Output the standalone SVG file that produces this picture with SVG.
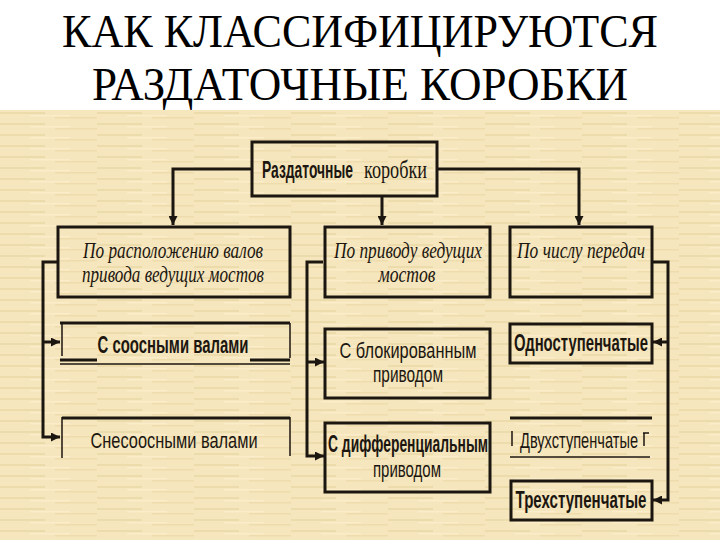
<svg xmlns="http://www.w3.org/2000/svg" width="720" height="540" viewBox="0 0 720 540">
<style>
.title{font-family:"Liberation Serif","Times New Roman",serif;font-size:46px;fill:#000;text-anchor:middle}
.box{fill:none;stroke:#1c1610;stroke-width:3}
.thin{fill:none;stroke:#1c1610;stroke-width:1.5}
.cat{font-family:"Liberation Serif","Times New Roman",serif;font-style:italic;font-size:23px;fill:#1c1610;text-anchor:middle}
.bold{font-family:"Liberation Sans",Arial,sans-serif;font-weight:bold;font-size:23px;fill:#1c1610;text-anchor:middle}
.reg{font-family:"Liberation Sans",Arial,sans-serif;font-size:22px;fill:#1c1610;text-anchor:middle}
.ser{font-family:"Liberation Serif","Times New Roman",serif;font-size:26px;fill:#1c1610}
.conn{fill:none;stroke:#1c1610;stroke-width:3}
</style>
<defs>
<marker id="arr" viewBox="0 0 10 10" refX="10" refY="5" markerWidth="3.2" markerHeight="3" orient="auto" markerUnits="strokeWidth">
<path d="M0,0 L10,5 L0,10 Z" fill="#1c1610"/>
</marker>
<pattern id="tex" width="97" height="11" patternUnits="userSpaceOnUse">
<rect width="97" height="11" fill="#f5e6bd"/>
<rect y="2" width="45" height="2" fill="#ecdbab"/>
<rect x="55" y="7" width="42" height="1.5" fill="#eedcad"/>
<rect x="30" y="5" width="40" height="1.5" fill="#fbedc9"/>
</pattern>
</defs>
<rect width="720" height="540" fill="#fff"/>
<text class="title" x="360" y="47" textLength="596" lengthAdjust="spacingAndGlyphs">КАК КЛАССИФИЦИРУЮТСЯ</text>
<text class="title" x="360" y="100" textLength="536" lengthAdjust="spacingAndGlyphs">РАЗДАТОЧНЫЕ КОРОБКИ</text>
<rect x="0" y="110" width="720" height="430" fill="url(#tex)"/>

<g id="connectors">
<path class="conn" d="M252,169 H173 V225" marker-end="url(#arr)"/>
<path class="conn" d="M382,197 V225" marker-end="url(#arr)"/>
<path class="conn" d="M437,169 H579 V225" marker-end="url(#arr)"/>
<path class="conn" d="M57,262 H43 V437 H60" marker-end="url(#arr)"/>
<path class="conn" d="M43,342 H60" marker-end="url(#arr)"/>
<path class="conn" d="M323,262 H307 V456 H324" marker-end="url(#arr)"/>
<path class="conn" d="M307,362 H324" marker-end="url(#arr)"/>
<path class="conn" d="M653,262 H668 V500 H653" marker-end="url(#arr)"/>
<path class="conn" d="M668,342 H653" marker-end="url(#arr)"/>
</g>

<g id="root">
<rect class="box" x="252" y="142" width="185" height="54"/>
<text class="bold" transform="translate(262,178) scale(0.65,1)" style="text-anchor:start" textLength="140" lengthAdjust="spacingAndGlyphs">Раздаточные</text>
<text class="ser" transform="translate(364,178) scale(0.7,1)" textLength="90" lengthAdjust="spacingAndGlyphs">коробки</text>
</g>

<g id="by-shafts">
<rect class="box" x="58" y="227" width="232" height="70"/>
<text class="cat" x="173" y="258" textLength="180" lengthAdjust="spacingAndGlyphs">По расположению валов</text>
<text class="cat" x="173" y="282" textLength="182" lengthAdjust="spacingAndGlyphs">привода ведущих мостов</text>
</g>

<g id="by-drive">
<rect class="box" x="325" y="227" width="165" height="70"/>
<text class="cat" x="408" y="258" textLength="148" lengthAdjust="spacingAndGlyphs">По приводу ведущих</text>
<text class="cat" x="407" y="282" textLength="57" lengthAdjust="spacingAndGlyphs">мостов</text>
</g>

<g id="by-gears">
<rect class="box" x="510" y="227" width="142" height="70"/>
<text class="cat" x="581" y="258" textLength="128" lengthAdjust="spacingAndGlyphs">По числу передач</text>
</g>

<g id="coaxial">
<path class="box" d="M60,323 H290"/>
<path class="thin" d="M62,323 V356 M290,323 V358"/>
<path class="box" d="M60,360 H97 M250,360 H290"/>
<path class="thin" d="M60,364 H290" stroke="#7a6a55"/>
<text class="bold" transform="translate(173,353) scale(0.7,1)" textLength="215.7" lengthAdjust="spacingAndGlyphs">С соосными валами</text>
</g>

<g id="noncoaxial">
<path class="box" d="M62,418 H290"/>
<path class="thin" d="M62,417 V458 M290,417 V456"/>
<text class="reg" transform="translate(174,448) scale(0.75,1)" textLength="222.7" lengthAdjust="spacingAndGlyphs">Снесоосными валами</text>
</g>

<g id="locked">
<rect class="box" x="325" y="329" width="165" height="69"/>
<text class="reg" transform="translate(408,358) scale(0.75,1)" textLength="182.7" lengthAdjust="spacingAndGlyphs">С блокированным</text>
<text class="reg" transform="translate(408,382) scale(0.75,1)" textLength="93.3" lengthAdjust="spacingAndGlyphs">приводом</text>
</g>

<g id="differential">
<rect class="box" x="325" y="423" width="165" height="69"/>
<text class="bold" transform="translate(408,452) scale(0.7,1)" textLength="228.6" lengthAdjust="spacingAndGlyphs">С дифференциальным</text>
<text class="reg" transform="translate(407,477) scale(0.75,1)" textLength="90.7" lengthAdjust="spacingAndGlyphs">приводом</text>
</g>

<g id="single">
<rect class="box" x="510" y="324" width="142" height="39"/>
<text class="bold" transform="translate(581,351) scale(0.7,1)" textLength="191.4" lengthAdjust="spacingAndGlyphs">Одноступенчатые</text>
</g>

<g id="two">
<path class="box" d="M510,418 H652"/>
<path class="thin" d="M510,457 H650" stroke="#5a4c3c"/>
<path class="thin" d="M512,431 V446 M643,433 H649 M644,433 V446"/>
<text class="reg" transform="translate(579,448) scale(0.7,1)" textLength="168.6" lengthAdjust="spacingAndGlyphs">Двухступенчатые</text>
</g>

<g id="three">
<rect class="box" x="511" y="481" width="141" height="39"/>
<text class="bold" transform="translate(581,508) scale(0.7,1)" textLength="187.1" lengthAdjust="spacingAndGlyphs">Трехступенчатые</text>
</g>
</svg>
